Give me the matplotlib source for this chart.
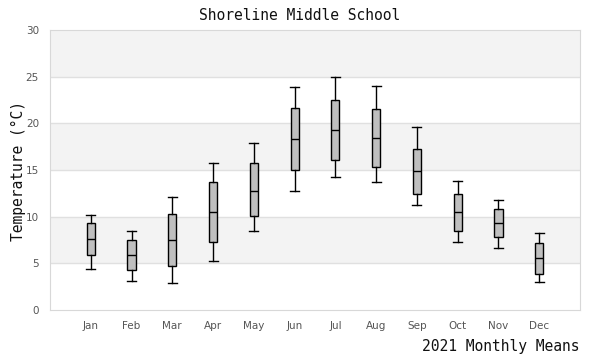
import matplotlib
matplotlib.use("Agg")
import matplotlib.pyplot as plt


months = ["Jan", "Feb", "Mar", "Apr", "May", "Jun",
          "Jul", "Aug", "Sep", "Oct", "Nov", "Dec"]
whisker_low = [4.4, 3.1, 2.9, 5.3, 8.5, 12.7, 14.2, 13.7, 11.2, 7.3, 6.6, 3.0]
q1 = [5.9, 4.3, 4.7, 7.3, 10.1, 15.0, 16.1, 15.3, 12.4, 8.5, 7.8, 3.9]
median = [7.6, 5.9, 7.5, 10.5, 12.8, 18.3, 19.3, 18.4, 14.9, 10.5, 9.3, 5.6]
q3 = [9.3, 7.5, 10.3, 13.7, 15.7, 21.6, 22.5, 21.5, 17.3, 12.4, 10.8, 7.2]
whisker_high = [10.2, 8.5, 12.1, 15.7, 17.9, 23.9, 25.0, 24.0, 19.6, 13.8, 11.8, 8.2]

stats = [
    {"whislo": lo, "q1": a, "med": m, "q3": b, "whishi": hi, "label": name}
    for name, lo, a, m, b, hi in zip(months, whisker_low, q1, median, q3, whisker_high)
]

fig = plt.figure(figsize=(6, 3.6), dpi=100)
ax = fig.add_axes([50 / 600, 50 / 360, 530 / 600, 280 / 360])

for lo in (5, 15, 25):
    ax.axhspan(lo, lo + 5, color="#f3f3f3", zorder=0, lw=0)
for y in range(5, 30, 5):
    ax.axhline(y, color="#e0e0e0", lw=1, zorder=0.5)

ax.bxp(
    stats,
    positions=range(len(months)),
    widths=0.2,
    patch_artist=True,
    showfliers=False,
    boxprops={"facecolor": "#bfbfbf", "edgecolor": "black", "linewidth": 1},
    medianprops={"color": "black", "linewidth": 1},
    whiskerprops={"color": "black", "linewidth": 1},
    capprops={"color": "black", "linewidth": 1},
    capwidths=0.22,
)

ax.set_xlim(-1, 12)
ax.set_ylim(0, 30)
ax.set_yticks(range(0, 31, 5))
ax.set_xticks(range(len(months)))
ax.set_xticklabels(months)
ax.tick_params(length=0, labelsize=7.5, colors="#555555", pad=8)
for spine in ax.spines.values():
    spine.set_color("#d8d8d8")

mono = "DejaVu Sans Mono"
fig.text(0.5, 1 - 15 / 360, "Shoreline Middle School", ha="center", va="center",
         family=mono, fontsize=10.5, color="#111111")
fig.text(18 / 600, 1 - 171 / 360, "Temperature (°C)", rotation=90, ha="center",
         va="center", family=mono, fontsize=10.5, color="#111111")
fig.text(579 / 600, 1 - 347 / 360, "2021 Monthly Means", ha="right", va="center",
         family=mono, fontsize=10.5, color="#111111")

fig.savefig("out.png", dpi=100)
